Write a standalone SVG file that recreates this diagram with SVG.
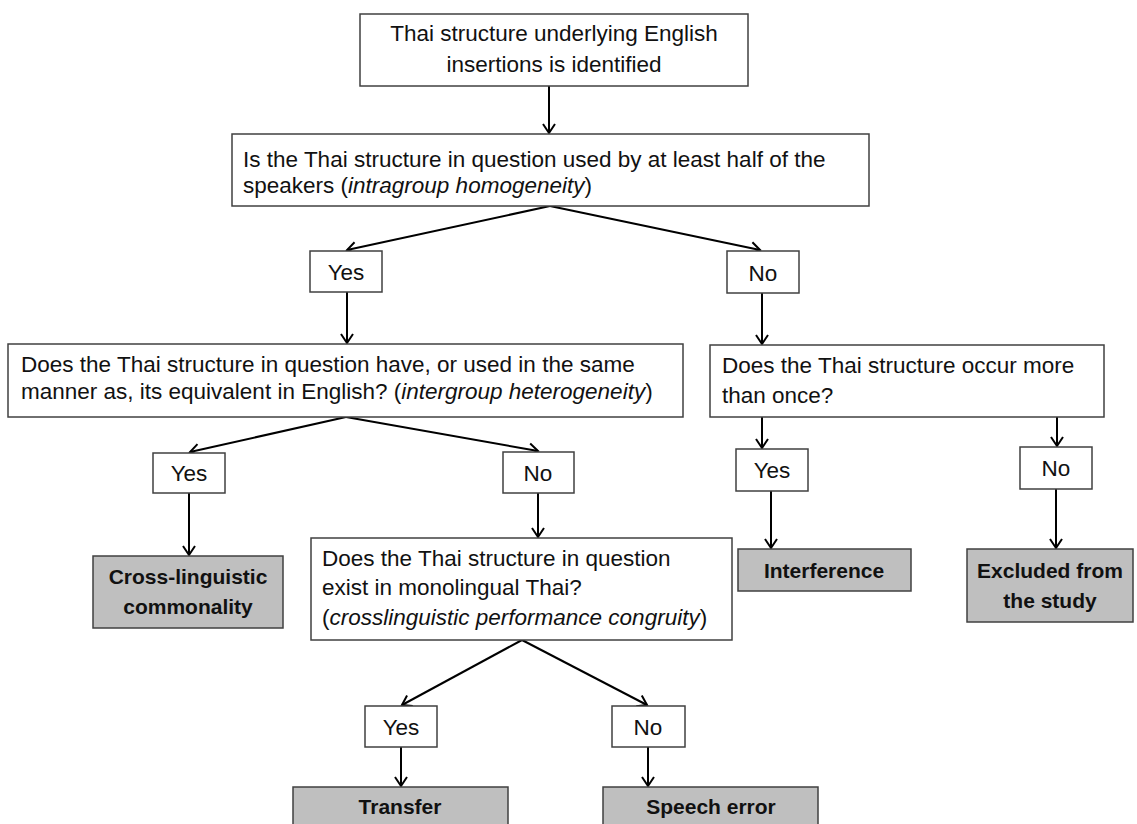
<svg xmlns="http://www.w3.org/2000/svg" width="1137" height="824" viewBox="0 0 1137 824">
<defs>
<marker id="arr" markerUnits="userSpaceOnUse" markerWidth="20" markerHeight="20" viewBox="-10 -10 20 20" refX="0" refY="0" orient="auto">
<path d="M-9,-6 L0,0 L-9,6" fill="none" stroke="#000" stroke-width="2"/>
</marker>
<style>
.b{fill:#fff;stroke:#404040;stroke-width:1.5}
.g{fill:#bfbfbf;stroke:#404040;stroke-width:1.5}
.t{font-family:"Liberation Sans",Arial,sans-serif;font-size:22.5px;fill:#111}
.c{text-anchor:middle}
.bd{font-weight:bold;font-size:21px}
.e{stroke:#000;stroke-width:2;fill:none;marker-end:url(#arr)}
</style>
</defs>
<rect width="1137" height="824" fill="#fff"/>
<g id="connectors">
<line class="e" x1="549" y1="86" x2="549" y2="133"/>
<line class="e" x1="550" y1="206" x2="347" y2="250"/>
<line class="e" x1="550" y1="206" x2="760" y2="250"/>
<line class="e" x1="347" y1="292" x2="347" y2="343"/>
<line class="e" x1="762" y1="293" x2="762" y2="344"/>
<line class="e" x1="346" y1="417" x2="190" y2="452"/>
<line class="e" x1="346" y1="417" x2="538" y2="451"/>
<line class="e" x1="189" y1="493" x2="189" y2="555"/>
<line class="e" x1="538" y1="493" x2="538" y2="537"/>
<line class="e" x1="762" y1="417" x2="762" y2="448"/>
<line class="e" x1="1057" y1="417" x2="1057" y2="446"/>
<line class="e" x1="771" y1="491" x2="771" y2="548"/>
<line class="e" x1="1056" y1="489" x2="1056" y2="548"/>
<line class="e" x1="522" y1="640" x2="402" y2="705"/>
<line class="e" x1="522" y1="640" x2="647" y2="705"/>
<line class="e" x1="401" y1="747" x2="401" y2="786"/>
<line class="e" x1="648" y1="747" x2="648" y2="786"/>
</g>
<g id="n1">
<rect class="b" x="360" y="14" width="388" height="72"/>
<text class="t c" x="554" y="41">Thai structure underlying English</text>
<text class="t c" x="554" y="72">insertions is identified</text>
</g>
<g id="n2">
<rect class="b" x="232" y="134" width="637" height="72"/>
<text class="t" x="243" y="167">Is the Thai structure in question used by at least half of the</text>
<text class="t" x="243" y="193">speakers (<tspan font-style="italic">intragroup homogeneity</tspan>)</text>
</g>
<g id="yes1">
<rect class="b" x="310" y="251" width="72" height="41"/>
<text class="t c" x="346" y="280">Yes</text>
</g>
<g id="no1">
<rect class="b" x="727" y="251" width="72" height="42"/>
<text class="t c" x="763" y="281">No</text>
</g>
<g id="n3">
<rect class="b" x="8" y="344" width="675" height="73"/>
<text class="t" x="21" y="372">Does the Thai structure in question have, or used in the same</text>
<text class="t" x="21" y="399">manner as, its equivalent in English? (<tspan font-style="italic">intergroup heterogeneity</tspan>)</text>
</g>
<g id="n4">
<rect class="b" x="710" y="345" width="394" height="72"/>
<text class="t" x="722" y="373">Does the Thai structure occur more</text>
<text class="t" x="722" y="403">than once?</text>
</g>
<g id="yes2">
<rect class="b" x="153" y="453" width="72" height="40"/>
<text class="t c" x="189" y="481">Yes</text>
</g>
<g id="no2">
<rect class="b" x="503" y="452" width="71" height="41"/>
<text class="t c" x="538" y="481">No</text>
</g>
<g id="yes3">
<rect class="b" x="736" y="449" width="72" height="42"/>
<text class="t c" x="772" y="478">Yes</text>
</g>
<g id="no3">
<rect class="b" x="1020" y="447" width="72" height="42"/>
<text class="t c" x="1056" y="476">No</text>
</g>
<g id="cross">
<rect class="g" x="93" y="556" width="190" height="72"/>
<text class="t c bd" x="188" y="584">Cross-linguistic</text>
<text class="t c bd" x="188" y="614">commonality</text>
</g>
<g id="n5">
<rect class="b" x="311" y="538" width="421" height="102"/>
<text class="t" x="322" y="566">Does the Thai structure in question</text>
<text class="t" x="322" y="595">exist in monolingual Thai?</text>
<text class="t" x="322" y="625">(<tspan font-style="italic">crosslinguistic performance congruity</tspan>)</text>
</g>
<g id="interference">
<rect class="g" x="738" y="549" width="173" height="42"/>
<text class="t c bd" x="824" y="578">Interference</text>
</g>
<g id="excluded">
<rect class="g" x="967" y="549" width="166" height="73"/>
<text class="t c bd" x="1050" y="578">Excluded from</text>
<text class="t c bd" x="1050" y="608">the study</text>
</g>
<g id="yes4">
<rect class="b" x="365" y="706" width="72" height="41"/>
<text class="t c" x="401" y="735">Yes</text>
</g>
<g id="no4">
<rect class="b" x="612" y="706" width="73" height="41"/>
<text class="t c" x="648" y="735">No</text>
</g>
<g id="transfer">
<rect class="g" x="293" y="787" width="215" height="45"/>
<text class="t c bd" x="400" y="814">Transfer</text>
</g>
<g id="speech">
<rect class="g" x="603" y="787" width="215" height="45"/>
<text class="t c bd" x="711" y="814">Speech error</text>
</g>
</svg>
